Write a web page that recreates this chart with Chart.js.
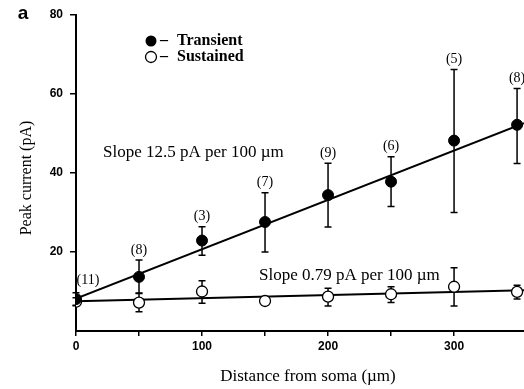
<!DOCTYPE html>
<html>
<head>
<meta charset="utf-8">
<script src="https://cdn.jsdelivr.net/npm/chart.js@4.4.0/dist/chart.umd.min.js"></script>
<style>
  html, body { margin: 0; padding: 0; background: #fff; }
  #wrap { width: 524px; height: 389px; }
</style>
</head>
<body>
<div id="wrap"><canvas id="chart" width="524" height="389"></canvas></div>
<script>
// distance from soma (um)
const distances = [0, 50, 100, 150, 200, 250, 300, 350];

// transient peak current (pA) with error bar ends
const transient = [8.1, 13.7, 22.9, 27.6, 34.4, 37.8, 48.2, 52.2];
const transientHi = [9.7, 18.0, 26.4, 35.0, 42.5, 44.1, 66.2, 61.4];
const transientLo = [6.5, 9.6, 19.2, 20.0, 26.3, 31.5, 30.0, 42.4];
const cellCounts = ['(11)', '(8)', '(3)', '(7)', '(9)', '(6)', '(5)', '(8)'];

// sustained peak current (pA) with error bar ends
const sustained = [7.4, 7.2, 10.0, 7.6, 8.7, 9.3, 11.2, 9.9];
const sustainedHi = [8.4, 9.5, 12.7, 8.6, 10.8, 11.2, 16.0, 11.6];
const sustainedLo = [6.4, 4.9, 7.0, 6.6, 6.3, 7.2, 6.3, 8.1];

// regression line ends
const fitX = [0, 355.5];
const transientFit = [8.2, 52.6];
const sustainedFit = [7.5, 10.3];

const xMax = 355.5;
const yMax = 80;

const serif = '"Liberation Serif", "Times New Roman", serif';
const sans = '"Liberation Sans", Arial, sans-serif';

function pts(xs, ys) {
    return xs.map((x, i) => ({ x: x, y: ys[i] }));
}

const errorBars = {
    id: 'errorBars',
    beforeDatasetDraw(chart, args) {
        if (args.index !== 1) return;
        const ctx = chart.ctx;
        const x = chart.scales.x, y = chart.scales.y;
        ctx.save();
        ctx.strokeStyle = '#000';
        ctx.lineWidth = 1.5;
        const draw = (hi, lo) => {
            distances.forEach((d, i) => {
                const px = x.getPixelForValue(d);
                const top = y.getPixelForValue(hi[i]);
                const bot = y.getPixelForValue(lo[i]);
                ctx.beginPath();
                ctx.moveTo(px, top); ctx.lineTo(px, bot);
                ctx.moveTo(px - 3.5, top); ctx.lineTo(px + 3.5, top);
                ctx.moveTo(px - 3.5, bot); ctx.lineTo(px + 3.5, bot);
                ctx.stroke();
            });
        };
        draw(sustainedHi, sustainedLo);
        draw(transientHi, transientLo);
        ctx.restore();
    }
};

const annotations = {
    id: 'annotations',
    afterDraw(chart) {
        const ctx = chart.ctx;
        const x = chart.scales.x, y = chart.scales.y;
        ctx.save();
        ctx.fillStyle = '#000';

        // cell counts above the transient error bars
        ctx.font = '14px ' + serif;
        ctx.textBaseline = 'bottom';
        ctx.textAlign = 'center';
        cellCounts.forEach((label, i) => {
            let px = x.getPixelForValue(distances[i]);
            let py = y.getPixelForValue(transientHi[i]) - 3;
            if (i === 0) { px += 12; py -= 2; }
            ctx.fillText(label, px, py);
        });

        // slope notes
        ctx.font = '17px ' + serif;
        ctx.textAlign = 'left';
        ctx.textBaseline = 'middle';
        ctx.fillText('Slope 12.5 pA per 100 \u00b5m', 103, 153);
        ctx.fillText('Slope 0.79 pA per 100 \u00b5m', 259, 276);

        // axis titles
        ctx.textAlign = 'center';
        ctx.fillText('Distance from soma (\u00b5m)', 308, 377);
        ctx.font = '16px ' + serif;
        ctx.save();
        ctx.translate(27, 178);
        ctx.rotate(-Math.PI / 2);
        ctx.fillText('Peak current (pA)', 0, 0);
        ctx.restore();

        // panel letter
        ctx.font = 'bold 19px ' + sans;
        ctx.fillText('a', 23, 14);

        // legend
        ctx.lineWidth = 1.3;
        ctx.strokeStyle = '#000';
        ctx.beginPath(); ctx.arc(151, 41, 5.5, 0, Math.PI * 2); ctx.fill();
        ctx.beginPath(); ctx.arc(151, 57, 5.5, 0, Math.PI * 2);
        ctx.fillStyle = '#fff'; ctx.fill(); ctx.stroke();
        ctx.fillStyle = '#000';
        ctx.font = 'bold 16px ' + serif;
        ctx.textAlign = 'left';
        ctx.fillText('\u2013', 160, 41);
        ctx.fillText('Transient', 177, 41);
        ctx.fillText('\u2013', 160, 57);
        ctx.fillText('Sustained', 177, 57);
        ctx.restore();
    }
};

const ctx = document.getElementById('chart').getContext('2d');
new Chart(ctx, {
    type: 'scatter',
    data: {
        datasets: [{
            label: 'Transient',
            data: pts(distances, transient),
            pointRadius: 5.5,
            pointBackgroundColor: '#000',
            pointBorderColor: '#000',
            pointBorderWidth: 1
        }, {
            label: 'Sustained',
            data: pts(distances, sustained),
            pointRadius: 5.5,
            pointBackgroundColor: '#fff',
            pointBorderColor: '#000',
            pointBorderWidth: 1.3
        }, {
            label: 'Sustained fit',
            data: pts(fitX, sustainedFit),
            showLine: true,
            pointRadius: 0,
            borderColor: '#000',
            borderWidth: 2
        }, {
            label: 'Transient fit',
            data: pts(fitX, transientFit),
            showLine: true,
            pointRadius: 0,
            borderColor: '#000',
            borderWidth: 2
        }]
    },
    options: {
        responsive: false,
        animation: false,
        layout: { autoPadding: false, padding: { top: 15, right: 0, left: 0, bottom: 0 } },
        plugins: {
            legend: { display: false },
            tooltip: { enabled: false }
        },
        scales: {
            x: {
                type: 'linear',
                min: 0,
                max: xMax,
                border: { color: '#000', width: 2 },
                grid: { drawOnChartArea: false, drawTicks: true, tickLength: 5, color: '#000', lineWidth: 1.5 },
                afterBuildTicks: s => { s.ticks = s.ticks.filter(t => t.value % 50 === 0); },
                afterFit: s => { s.height = 58; },
                ticks: {
                    stepSize: 50,
                    autoSkip: false,
                    maxRotation: 0,
                    padding: 3,
                    color: '#000',
                    font: { family: sans, size: 12, weight: 'bold' },
                    callback: v => (v % 100 === 0 ? v : '')
                }
            },
            y: {
                min: 0,
                max: yMax,
                border: { color: '#000', width: 2 },
                grid: { drawOnChartArea: false, drawTicks: true, tickLength: 6, color: '#000', lineWidth: 1.5 },
                afterBuildTicks: s => { s.ticks = s.ticks.filter(t => t.value > 0); },
                afterFit: s => { s.width = 76; },
                ticks: {
                    stepSize: 20,
                    padding: 7,
                    color: '#000',
                    font: { family: sans, size: 12, weight: 'bold' }
                }
            }
        }
    },
    plugins: [errorBars, annotations]
});
</script>
</body>
</html>
